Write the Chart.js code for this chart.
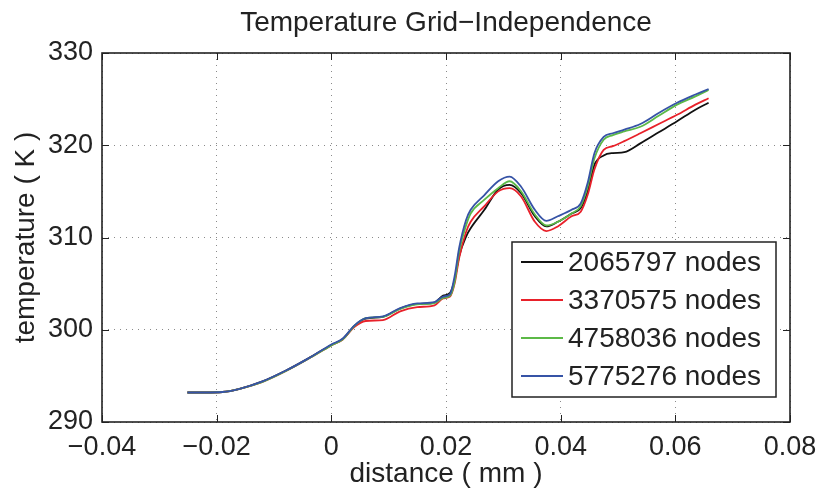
<!DOCTYPE html>
<html lang="en">
<head>
  <meta charset="UTF-8" />
  <title>Temperature Grid−Independence</title>
  <script src="https://cdn.jsdelivr.net/npm/chart.js"></script>
  <style>
    html, body {
      margin: 0;
      padding: 0;
      background: #ffffff;
    }
    #grafico {
      display: block;
    }
  </style>
</head>
<body>
  <canvas id="grafico" width="822" height="493"></canvas>

  <script>
    // distance (mm)
    const distancia = [-0.0251, -0.022, -0.019, -0.016, -0.012, -0.008, -0.004, 0, 0.002, 0.004,
      0.006, 0.009, 0.012, 0.015, 0.018, 0.0195, 0.0207, 0.0215, 0.0223, 0.0235,
      0.0243, 0.0267, 0.0291, 0.0311, 0.0331, 0.0355, 0.0375, 0.0395, 0.0419, 0.0435,
      0.0447, 0.0459, 0.0475, 0.0491, 0.0511, 0.0539, 0.0571, 0.0603, 0.0635, 0.0658];

    // temperature (K) per mesh
    const nodes2065797 = [293.2, 293.2, 293.25, 293.6, 294.4, 295.55, 296.9, 298.35, 299.0, 300.4,
      301.2, 301.4, 302.3, 302.8, 302.95, 303.7, 304.0, 305.4, 308.0, 310.1,
      311.0, 313.0, 315.2, 315.7, 314.8, 312.3, 311.2, 311.7, 312.6, 313.2,
      315.0, 317.9, 318.9, 319.15, 319.25, 320.2, 321.4, 322.6, 323.85, 324.6];
    const nodes3370575 = [293.2, 293.2, 293.25, 293.6, 294.35, 295.5, 296.85, 298.3, 298.95, 300.3,
      300.95, 301.05, 302.0, 302.45, 302.65, 303.4, 303.6, 305.0, 307.8, 310.6,
      311.7, 313.4, 315.0, 315.35, 314.45, 311.7, 310.7, 311.2, 312.3, 312.8,
      314.6, 317.4, 319.5, 319.9, 320.45, 321.3, 322.3, 323.3, 324.4, 325.1];
    const nodes4758036 = [293.2, 293.2, 293.25, 293.6, 294.35, 295.5, 296.85, 298.3, 298.95, 300.4,
      301.25, 301.4, 302.25, 302.75, 302.9, 303.45, 303.7, 305.2, 308.5, 311.3,
      312.6, 314.1, 315.35, 316.1, 315.0, 312.5, 311.3, 311.7, 312.6, 313.4,
      315.5, 318.6, 320.6, 321.1, 321.5, 322.0, 323.2, 324.4, 325.3, 326.0];
    const nodes5775276 = [293.2, 293.2, 293.25, 293.6, 294.4, 295.55, 296.9, 298.4, 299.05, 300.45,
      301.25, 301.45, 302.35, 302.85, 303.0, 303.6, 303.85, 305.8, 308.9, 311.9,
      313.0, 314.6, 316.1, 316.6, 315.5, 313.0, 311.8, 312.3, 313.0, 313.7,
      315.9, 319.15, 320.9, 321.3, 321.7, 322.3, 323.5, 324.6, 325.5, 326.1];

    const rotulosSeries = ['2065797 nodes', '3370575 nodes', '4758036 nodes', '5775276 nodes'];
    const coresSeries = ['#111111', '#e8212a', '#5cb947', '#3653a6'];

    const xTicks = [-0.04, -0.02, 0, 0.02, 0.04, 0.06, 0.08];
    const xTickLabels = ['\u22120.04', '\u22120.02', '0', '0.02', '0.04', '0.06', '0.08'];
    const yTicks = [290, 300, 310, 320, 330];
    const yTickLabels = ['290', '300', '310', '320', '330'];

    const fonte = '"Liberation Sans", Arial, Helvetica, sans-serif';
    const series = [nodes2065797, nodes3370575, nodes4758036, nodes5775276];

    const datasets = series.map((valores, i) => ({
      label: rotulosSeries[i],
      data: distancia.map((d, k) => ({ x: d, y: valores[k] })),
      borderColor: coresSeries[i],
      backgroundColor: coresSeries[i],
      borderWidth: 1.8,
      pointRadius: 0,
      fill: false,
      cubicInterpolationMode: 'monotone',
      order: series.length - i
    }));

    // box + inward ticks like MATLAB, and the legend inside the axes
    const caixaMatlab = {
      id: 'caixaMatlab',
      afterDatasetsDraw(chart) {
        const { ctx, chartArea: a, scales } = chart;
        const tam = 7;
        ctx.save();
        ctx.strokeStyle = '#222';
        ctx.lineWidth = 1;
        ctx.beginPath();
        xTicks.forEach(v => {
          const px = Math.round(scales.x.getPixelForValue(v)) + 0.5;
          ctx.moveTo(px, a.bottom); ctx.lineTo(px, a.bottom - tam);
          ctx.moveTo(px, a.top); ctx.lineTo(px, a.top + tam);
        });
        yTicks.forEach(v => {
          const py = Math.round(scales.y.getPixelForValue(v)) + 0.5;
          ctx.moveTo(a.left, py); ctx.lineTo(a.left + tam, py);
          ctx.moveTo(a.right, py); ctx.lineTo(a.right - tam, py);
        });
        ctx.stroke();
        ctx.lineWidth = 1.6;
        ctx.strokeRect(a.left, a.top, a.right - a.left, a.bottom - a.top);

        // legend
        const lx = 512, ly = 242, lw = 264, lh = 155;
        ctx.fillStyle = '#ffffff';
        ctx.fillRect(lx, ly, lw, lh);
        ctx.lineWidth = 1.5;
        ctx.strokeStyle = '#222';
        ctx.strokeRect(lx, ly, lw, lh);
        ctx.font = '28px ' + fonte;
        ctx.textBaseline = 'middle';
        ctx.textAlign = 'left';
        chart.data.datasets.forEach((ds, i) => {
          const cy = ly + 20 + i * 38;
          ctx.strokeStyle = ds.borderColor;
          ctx.lineWidth = 2;
          ctx.beginPath();
          ctx.moveTo(lx + 9, cy);
          ctx.lineTo(lx + 51, cy);
          ctx.stroke();
          ctx.fillStyle = '#222';
          ctx.fillText(ds.label, lx + 56, cy + 1);
        });
        ctx.restore();
      }
    };

    new Chart(document.getElementById('grafico'), {
      type: 'line',
      data: { datasets },
      plugins: [caixaMatlab],
      options: {
        responsive: false,
        animation: false,
        layout: { padding: { left: 0, right: 32, top: 0, bottom: 0 } },
        plugins: {
          legend: { display: false },
          tooltip: { enabled: false },
          title: {
            display: true,
            fullSize: false,
            text: 'Temperature Grid\u2212Independence',
            color: '#222',
            font: { family: fonte, size: 28, weight: 'normal', lineHeight: 1.2 },
            padding: { top: 6, bottom: 13.4 }
          }
        },
        scales: {
          x: {
            type: 'linear',
            min: -0.04,
            max: 0.08,
            afterBuildTicks: s => { s.ticks = xTicks.map(v => ({ value: v })); },
            afterFit: s => { s.height = 71; s.paddingLeft = 0; s.paddingRight = 0; },
            ticks: {
              color: '#222',
              padding: 9,
              maxRotation: 0,
              autoSkip: false,
              font: { family: fonte, size: 27 },
              callback: (v, i) => xTickLabels[i]
            },
            grid: { color: '#8a8a8a', lineWidth: 1, drawTicks: false },
            border: { display: false, dash: [1, 5] },
            title: {
              display: true,
              text: 'distance ( mm )',
              color: '#222',
              font: { family: fonte, size: 28, lineHeight: 1.2 },
              padding: { top: 0, bottom: 2 }
            }
          },
          y: {
            type: 'linear',
            min: 290,
            max: 330,
            afterBuildTicks: s => { s.ticks = yTicks.map(v => ({ value: v })); },
            afterFit: s => { s.width = 102; s.paddingTop = 0; s.paddingBottom = 0; },
            ticks: {
              color: '#222',
              padding: 9,
              autoSkip: false,
              font: { family: fonte, size: 27 },
              callback: (v, i) => yTickLabels[i]
            },
            grid: { color: '#8a8a8a', lineWidth: 1, drawTicks: false },
            border: { display: false, dash: [1, 5] },
            title: {
              display: true,
              text: 'temperature ( K )',
              color: '#222',
              font: { family: fonte, size: 28, lineHeight: 1.2 },
              padding: { top: 9, bottom: 0 }
            }
          }
        }
      }
    });
  </script>
</body>
</html>
